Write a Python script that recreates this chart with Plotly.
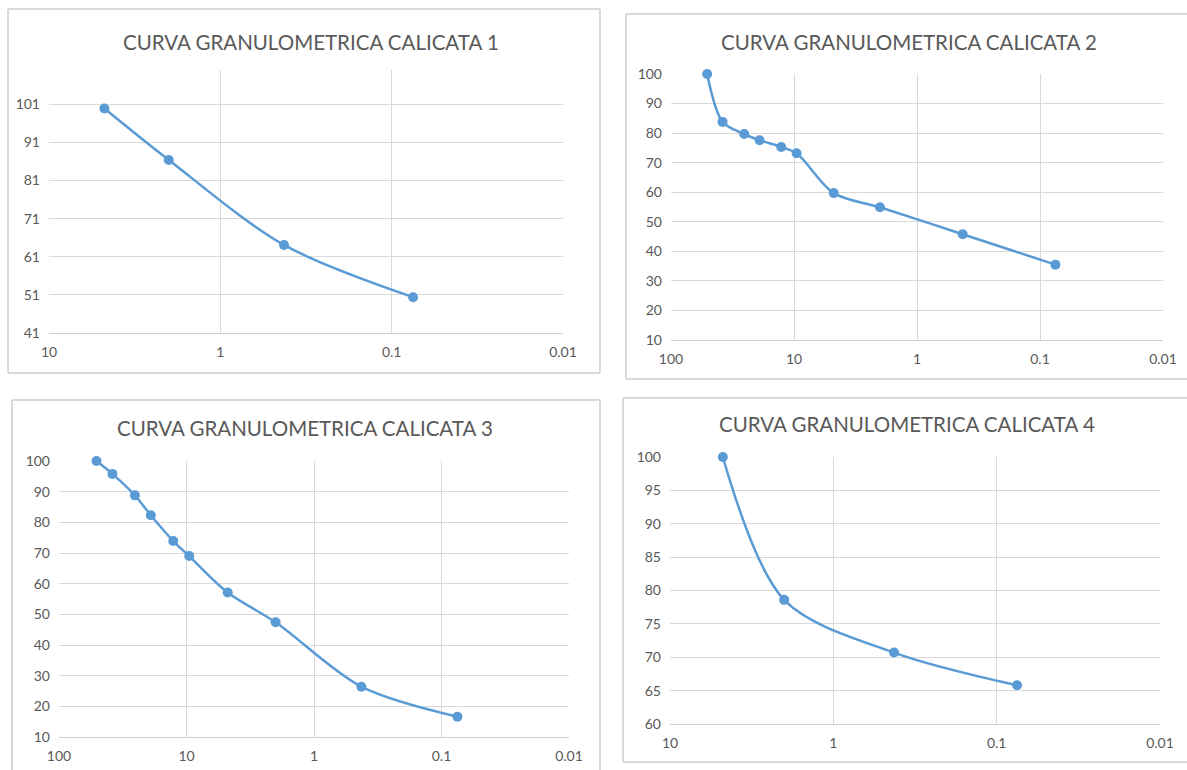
import plotly.graph_objects as go

# ---------------- data ----------------
titles = ["CURVA GRANULOMETRICA CALICATA 1", "CURVA GRANULOMETRICA CALICATA 2",
          "CURVA GRANULOMETRICA CALICATA 3", "CURVA GRANULOMETRICA CALICATA 4"]

c1_size = [4.75, 2.0, 0.425, 0.075]
c1_pass = [99.9, 86.4, 64.1, 50.4]

c2_size = [50.8, 38.1, 25.4, 19.05, 12.7, 9.525, 4.75, 2.0, 0.425, 0.075]
c2_pass = [100.0, 83.8, 79.7, 77.6, 75.3, 73.2, 59.7, 54.9, 45.8, 35.5]

c3_size = [50.8, 38.1, 25.4, 19.05, 12.7, 9.525, 4.75, 2.0, 0.425, 0.075]
c3_pass = [100.0, 95.8, 88.8, 82.3, 73.9, 69.0, 57.1, 47.4, 26.4, 16.6]

c4_size = [4.75, 2.0, 0.425, 0.075]
c4_pass = [100.0, 78.6, 70.7, 65.8]

x_tick_vals_3 = [10, 1, 0.1, 0.01]
x_tick_text_3 = ["10", "1", "0.1", "0.01"]
x_tick_vals_4 = [100, 10, 1, 0.1, 0.01]
x_tick_text_4 = ["100", "10", "1", "0.1", "0.01"]

y1_ticks = [41, 51, 61, 71, 81, 91, 101]
y2_ticks = [10, 20, 30, 40, 50, 60, 70, 80, 90, 100]
y4_ticks = [60, 65, 70, 75, 80, 85, 90, 95, 100]

# ---------------- layout helpers ----------------
# body margin is removed in the page, so the figure fills the whole window
W, H = 1187, 770
BLUE = "#5B9BD5"
GRID = "#d9d9d9"
TXT = "#595959"
FONT = "Lato"

def fx(px):
    return min(max(px / W, 0.0), 1.0)

def fy(py):
    return min(max(1 - py / H, 0.0), 1.0)

fig = go.Figure()

series = [(c1_size, c1_pass), (c2_size, c2_pass), (c3_size, c3_pass), (c4_size, c4_pass)]
for i, (xs, ys) in enumerate(series):
    n = "" if i == 0 else str(i + 1)
    fig.add_trace(go.Scatter(
        x=xs, y=ys, mode="lines+markers", cliponaxis=False,
        line=dict(color=BLUE, width=2.5, shape="spline", smoothing=0.9),
        marker=dict(color=BLUE, size=10),
        xaxis="x" + n, yaxis="y" + n, showlegend=False, hoverinfo="x+y"))

areas = [
    (49, 563, 70, 333),
    (671, 1163, 74, 340),
    (59, 569, 461, 737),
    (670, 1160, 457, 724),
]
xranges = [[1, -2], [2, -2], [2, -2], [1, -2]]
yranges = [[41, 110], [10, 100], [10, 100], [60, 100]]
yticks = [y1_ticks, y2_ticks, y2_ticks, y4_ticks]
xtv = [x_tick_vals_3, x_tick_vals_4, x_tick_vals_4, x_tick_vals_3]
xtt = [x_tick_text_3, x_tick_text_4, x_tick_text_4, x_tick_text_3]

layout = {}
for i in range(4):
    n = "" if i == 0 else str(i + 1)
    l, r, t, b = areas[i]
    layout["xaxis" + n] = dict(
        type="log", domain=[fx(l), fx(r)], range=xranges[i], anchor="y" + n,
        tickvals=xtv[i], ticktext=xtt[i], showgrid=True, gridcolor=GRID, gridwidth=1,
        showline=True, linecolor="#cfcfcf", linewidth=1.3, zeroline=False,
        ticks="", tickfont=dict(family=FONT, size=14, color=TXT), ticklabelstandoff=6,
        fixedrange=True, automargin=False)
    layout["yaxis" + n] = dict(
        domain=[fy(b), fy(t)], range=yranges[i], anchor="x" + n,
        tickvals=yticks[i], showgrid=True, gridcolor=GRID, gridwidth=1,
        showline=False, zeroline=False, ticks="",
        tickfont=dict(family=FONT, size=14, color=TXT), ticklabelstandoff=8,
        fixedrange=True, automargin=False)

fig.update_layout(**layout)

def seg(x0, y0, x1, y1):
    return dict(type="line", xref="paper", yref="paper",
                x0=fx(x0), y0=fy(y0), x1=fx(x1), y1=fy(y1),
                line=dict(color=GRID, width=2), layer="below")

shapes = [
    # frame 1
    seg(8, 9, 600, 9), seg(8, 9, 8, 373), seg(8, 373, 600, 373), seg(600, 9, 600, 373),
    # frame 2 (right side off page)
    seg(626, 14, 1187, 14), seg(626, 14, 626, 379), seg(626, 379, 1187, 379),
    # frame 3 (bottom off page)
    seg(12, 400, 600, 400), seg(12, 400, 12, 770), seg(600, 400, 600, 770),
    # frame 4 (right side off page)
    seg(623, 398, 1187, 398), seg(623, 398, 623, 762), seg(623, 762, 1187, 762),
]

title_pos = [(311, 42), (909, 42), (305, 428), (907, 424)]
annotations = []
for (tx, ty), txt in zip(title_pos, titles):
    annotations.append(dict(text=txt, x=fx(tx), y=fy(ty), xref="paper", yref="paper",
                            showarrow=False, xanchor="center", yanchor="middle",
                            font=dict(family=FONT, size=20.5, color=TXT)))

fig.update_layout(
    width=W, height=H, margin=dict(l=0, r=0, t=0, b=0, pad=0, autoexpand=False),
    paper_bgcolor="white", plot_bgcolor="white",
    shapes=shapes, annotations=annotations, showlegend=False)

fig.write_html("out.html", config={"displayModeBar": False},
               post_script="document.body.style.margin='0';document.documentElement.style.overflow='hidden';")
